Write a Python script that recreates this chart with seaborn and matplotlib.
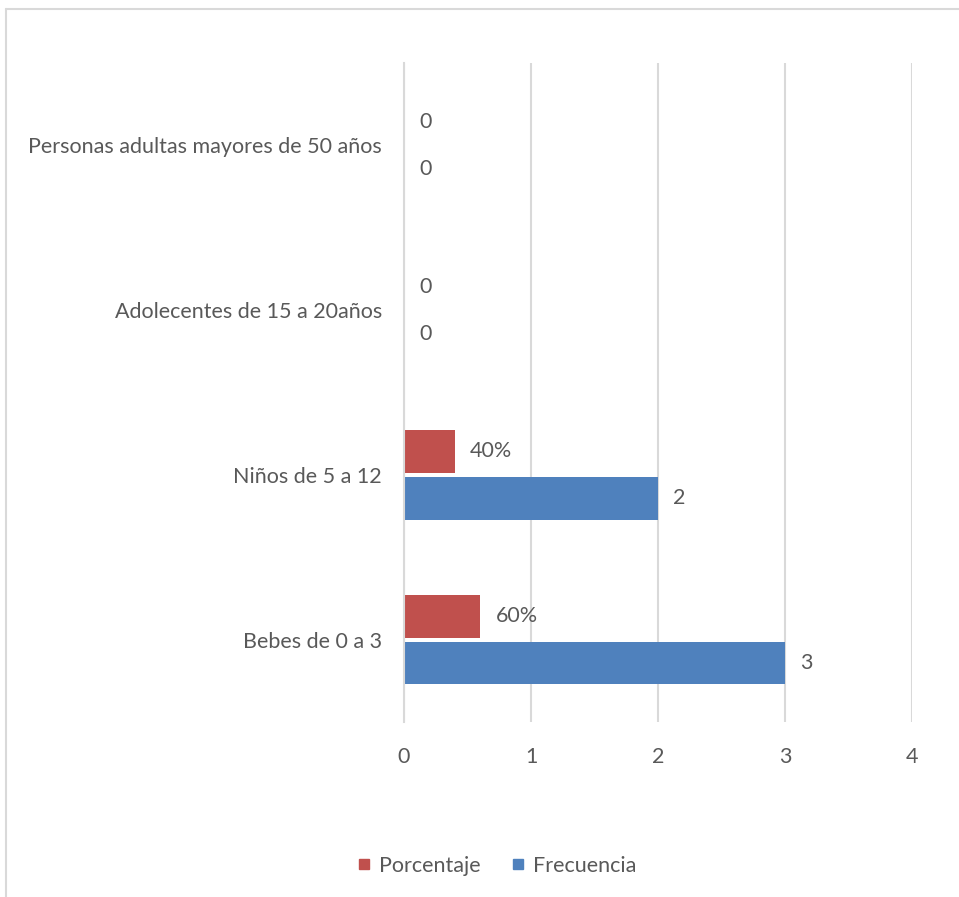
import matplotlib
matplotlib.use("Agg")
import matplotlib.pyplot as plt
import seaborn as sns
import pandas as pd
from matplotlib.lines import Line2D

# Data
categorias = [
    "Personas adultas mayores de 50 años",
    "Adolecentes de 15 a 20años",
    "Niños de 5 a 12",
    "Bebes de 0 a 3",
]
frecuencia = [0, 0, 2, 3]
porcentaje = [0.0, 0.0, 0.4, 0.6]
etiquetas_porcentaje = ["0", "0", "40%", "60%"]
etiquetas_frecuencia = ["0", "0", "2", "3"]
series = ["Porcentaje", "Frecuencia"]
x_ticks = [0, 1, 2, 3, 4]

df = pd.DataFrame({
    "categoria": categorias * 2,
    "valor": porcentaje + frecuencia,
    "serie": [series[0]] * len(categorias) + [series[1]] * len(categorias),
})

sns.set_theme(style="white")
plt.rcParams["font.family"] = ["Lato", "DejaVu Sans"]
text_color = "#595959"
grid_color = "#d9d9d9"
colors = {"Porcentaje": "#C0504D", "Frecuencia": "#4F81BD"}
fs = 15.5

fig = plt.figure(figsize=(9.59, 8.97), dpi=100)
ax = fig.add_axes([404 / 959, 1 - 722 / 897, (912 - 404) / 959, (722 - 63) / 897])

sns.barplot(
    data=df, x="valor", y="categoria", hue="serie",
    order=categorias, hue_order=series, palette=colors,
    orient="h", width=0.57, gap=0.09, ax=ax, legend=False,
    saturation=1, zorder=3, linewidth=0, edgecolor="none",
)

# Value labels
for cont, labels in zip(ax.containers, [etiquetas_porcentaje, etiquetas_frecuencia]):
    ax.bar_label(cont, labels=labels, padding=11, fontsize=fs, color=text_color)

ax.set_xlim(0, 4)
ax.set_ylim(3.5, -0.5)
ax.set_xticks(x_ticks)
ax.set_xticklabels([str(t) for t in x_ticks])
ax.set_xlabel("")
ax.set_ylabel("")

# Vertical gridlines
ax.xaxis.grid(True, color=grid_color, linewidth=1.5, zorder=0)
ax.set_axisbelow(True)

for side in ["top", "right", "bottom"]:
    ax.spines[side].set_visible(False)
ax.spines["left"].set_color(grid_color)
ax.spines["left"].set_linewidth(1.5)
ax.spines["left"].set_zorder(5)

ax.tick_params(axis="x", length=0, pad=18, labelsize=fs, labelcolor=text_color)
ax.tick_params(axis="y", which="major", length=0, pad=16, labelsize=fs, labelcolor=text_color)
ax.set_yticks([-0.5, 0.5, 1.5, 2.5, 3.5], minor=True)
ax.tick_params(axis="y", which="minor", length=6, width=1.5, color=grid_color, direction="out")

# Legend
handles = [
    Line2D([0], [0], marker="s", linestyle="none", markersize=7.5,
           markerfacecolor=colors[s], markeredgecolor=colors[s], label=s)
    for s in series
]
leg = fig.legend(handles=handles, loc="center", bbox_to_anchor=(497 / 959, 1 - 866 / 897),
                 ncol=2, frameon=False, fontsize=fs, handlelength=0.6,
                 handletextpad=0.4, columnspacing=1.4)
for t in leg.get_texts():
    t.set_color(text_color)

# Chart frame
fig.add_artist(Line2D([6 / 959, 1], [1 - 9 / 897, 1 - 9 / 897], transform=fig.transFigure,
                      color=grid_color, linewidth=1.5))
fig.add_artist(Line2D([6 / 959, 6 / 959], [0, 1 - 9 / 897], transform=fig.transFigure,
                      color=grid_color, linewidth=1.5))

fig.savefig("out.png", dpi=100, facecolor="white")
